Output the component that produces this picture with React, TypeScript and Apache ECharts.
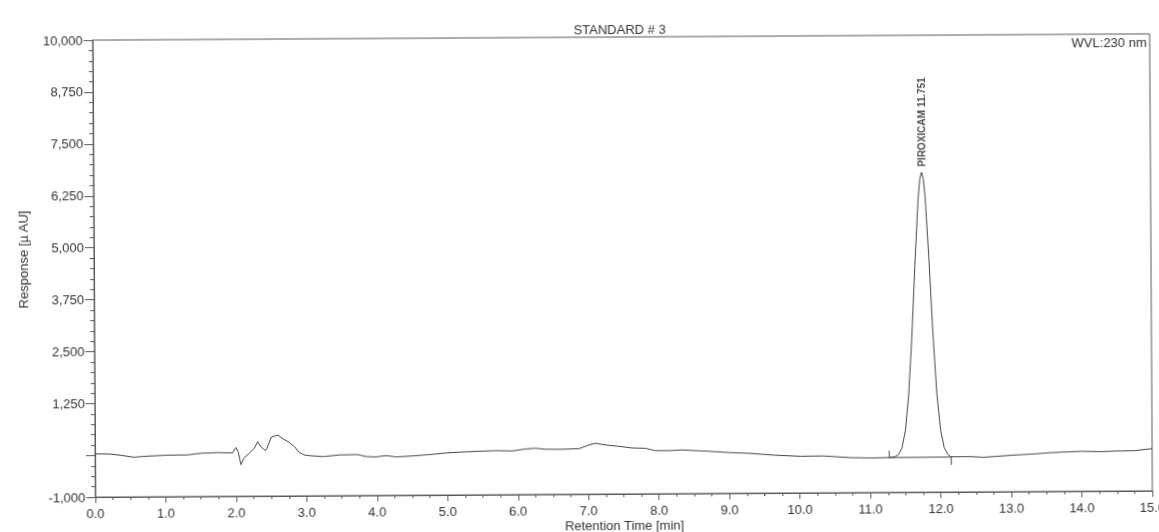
import { useEffect, useRef } from "react";
import * as echarts from "echarts";

const chartTitle = "STANDARD # 3";
const wavelengthLabel = "WVL:230 nm";
const xAxisTitle = "Retention Time [min]";
const yAxisTitle = "Response [µ AU]";
const peakName = "PIROXICAM";
const peakTime = 11.751;
const peakApex = 6701;

const xMin = 0;
const xMax = 15;
const yMin = -1000;
const yMax = 10000;
const yLabelValues = [-1000, 1250, 2500, 3750, 5000, 6250, 7500, 8750, 10000];
const yMajorTickValues = [-1000, 0, 1250, 2500, 3750, 5000, 6250, 7500, 8750, 10000];

// chromatogram trace (retention time in min, response in µAU)
const traceTimes = [
  0, 0.21, 0.36, 0.55, 0.74, 1.02, 1.31, 1.5, 1.74, 1.95,
  2.0, 2.03, 2.07, 2.11, 2.19, 2.26, 2.31, 2.35, 2.38, 2.42,
  2.44, 2.5, 2.55, 2.6, 2.67, 2.74, 2.83, 2.9, 2.98, 3.09,
  3.24, 3.47, 3.73, 3.85, 3.99, 4.13, 4.27, 4.51, 4.75, 4.98,
  5.22, 5.45, 5.69, 5.92, 6.11, 6.25, 6.4, 6.63, 6.87, 7.01,
  7.1, 7.25, 7.43, 7.62, 7.81, 7.95, 8.14, 8.33, 8.71, 9.01,
  9.28, 9.66, 10.01, 10.33, 10.71, 11.01, 11.27, 11.3, 11.35, 11.4,
  11.45, 11.5, 11.55, 11.6, 11.65, 11.7, 11.725, 11.751, 11.775, 11.8,
  11.85, 11.9, 11.95, 12.0, 12.05, 12.1, 12.14, 12.2, 12.42, 12.61,
  13.0, 13.33, 13.56, 14.0, 14.28, 14.51, 14.75, 15.0,
];
const traceValues = [
  40, 35, 5, -45, -22, -1, 3, 41, 54, 44,
  172, 75, -240, -85, 34, 153, 313, 192, 152, 95,
  151, 416, 447, 463, 373, 308, 187, 43, -21, -39,
  -57, -19, -14, -63, -72, -42, -75, -54, -24, 13,
  35, 49, 62, 52, 98, 113, 87, 85, 98, 185,
  224, 182, 149, 107, 97, 39, 37, 51, 16, -19,
  -38, -89, -118, -113, -157, -168, -162, -156, -143, -94,
  63, 476, 1330, 2736, 4506, 6056, 6530, 6701, 6550, 6104,
  4574, 2805, 1378, 500, 74, -90, -145, -152, -150, -168,
  -123, -95, -66, -38, -49, -35, -30, 16,
];

// integration baseline and its start/end markers
const baselineTimes = [11.27, 12.15];
const baselineValues = [-162, -157];
const startMarkerTimes = [11.27, 11.27];
const startMarkerValues = [-177, 5];
const endMarkerTimes = [12.15, 12.15];
const endMarkerValues = [-162, -347];

const zip = (xs: number[], ys: number[]) => xs.map((x, i) => [x, ys[i]]);

const FONT = "'Liberation Sans', Arial, sans-serif";
const AXIS_COLOR = "#5a5a5a";
const TEXT_COLOR = "#333";
const LINE_COLOR = "#454545";

const fmtY = (v: number) => v.toLocaleString("en-US");

export default function App() {
  const ref = useRef<HTMLDivElement>(null);

  useEffect(() => {
    if (!ref.current) return;
    const chart = echarts.init(ref.current, undefined, { renderer: "svg" });
    chart.setOption({
      animation: false,
      backgroundColor: "#ffffff",
      textStyle: { fontFamily: FONT },
      grid: {
        left: 94,
        right: 8,
        top: 37,
        bottom: 38,
        show: true,
        borderColor: AXIS_COLOR,
        borderWidth: 1,
        backgroundColor: "transparent",
        containLabel: false,
        outerBoundsMode: "none",
      },
      xAxis: {
        type: "value",
        min: xMin,
        max: xMax,
        interval: 1,
        axisLine: { show: true, onZero: false, lineStyle: { color: AXIS_COLOR, width: 1 } },
        axisTick: { show: true, length: 6, lineStyle: { color: AXIS_COLOR } },
        minorTick: { show: true, splitNumber: 4, length: 3, lineStyle: { color: AXIS_COLOR } },
        splitLine: { show: false },
        minorSplitLine: { show: false },
        axisLabel: {
          formatter: (v: number) => v.toFixed(1),
          fontSize: 13,
          color: TEXT_COLOR,
          margin: 10,
          fontFamily: FONT,
          showMaxLabel: true,
          showMinLabel: true,
          hideOverlap: false,
        },
      },
      yAxis: [
        {
          type: "value",
          min: yMin,
          max: yMax,
          interval: 250,
          axisLine: { show: true, onZero: false, lineStyle: { color: AXIS_COLOR, width: 1 } },
          axisTick: { show: true, length: 4, lineStyle: { color: AXIS_COLOR } },
          axisLabel: { show: false },
          splitLine: { show: false },
        },
        {
          type: "value",
          min: yMin,
          max: yMax,
          interval: 250,
          position: "left",
          axisLine: { show: false, onZero: false },
          axisTick: {
            show: true,
            length: 9,
            customValues: yMajorTickValues,
            lineStyle: { color: AXIS_COLOR },
          },
          axisLabel: {
            customValues: yLabelValues,
            formatter: fmtY,
            fontSize: 13,
            color: TEXT_COLOR,
            margin: 10,
            fontFamily: FONT,
          },
          splitLine: { show: false },
        },
      ],
      series: [
        {
          type: "line",
          name: "trace",
          data: zip(traceTimes, traceValues),
          showSymbol: false,
          symbol: "none",
          lineStyle: { color: LINE_COLOR, width: 1 },
          z: 3,
        },
        {
          type: "line",
          name: "baseline",
          data: zip(baselineTimes, baselineValues),
          showSymbol: false,
          symbol: "none",
          lineStyle: { color: LINE_COLOR, width: 1 },
        },
        {
          type: "line",
          name: "start",
          data: zip(startMarkerTimes, startMarkerValues),
          showSymbol: false,
          symbol: "none",
          lineStyle: { color: LINE_COLOR, width: 1 },
        },
        {
          type: "line",
          name: "end",
          data: zip(endMarkerTimes, endMarkerValues),
          showSymbol: false,
          symbol: "none",
          lineStyle: { color: LINE_COLOR, width: 1 },
        },
        {
          type: "scatter",
          name: "peak",
          data: [[peakTime, peakApex]],
          symbol: "circle",
          symbolSize: 1,
          itemStyle: { color: "transparent" },
          label: {
            show: true,
            formatter: `${peakName} ${peakTime.toFixed(3)}`,
            position: "top",
            distance: 5,
            rotate: 90,
            align: "left",
            verticalAlign: "middle",
            fontSize: 10,
            fontWeight: "bold",
            color: "#222",
            fontFamily: FONT,
          },
        },
      ],
      graphic: [
        {
          type: "text",
          x: 621,
          y: 29,
          style: { text: chartTitle, font: `13px ${FONT}`, fill: TEXT_COLOR, align: "center", verticalAlign: "middle" },
        },
        {
          type: "text",
          x: 1148,
          y: 45.5,
          style: { text: wavelengthLabel, font: `13px ${FONT}`, fill: TEXT_COLOR, align: "right", verticalAlign: "middle" },
        },
        {
          type: "text",
          x: 623,
          y: 525,
          style: { text: xAxisTitle, font: `13px ${FONT}`, fill: TEXT_COLOR, align: "center", verticalAlign: "middle" },
        },
        {
          type: "text",
          x: 23,
          y: 256,
          rotation: Math.PI / 2,
          style: { text: yAxisTitle, font: `13px ${FONT}`, fill: TEXT_COLOR, align: "center", verticalAlign: "middle" },
        },
      ],
    });
    return () => chart.dispose();
  }, []);

  return (
    <div
      ref={ref}
      style={{
        position: "fixed",
        left: 0,
        top: 0,
        width: 1159,
        height: 532,
        background: "#fff",
        transform: "rotate(-0.34deg)",
        transformOrigin: "622px 266px",
      }}
    />
  );
}
